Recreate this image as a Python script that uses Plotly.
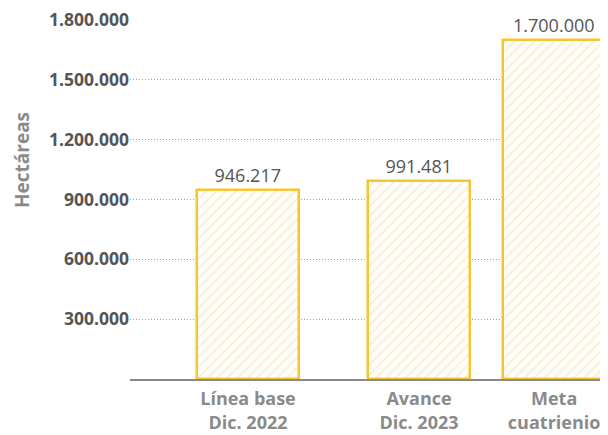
import plotly.graph_objects as go

categories = ["Línea base<br>Dic. 2022", "Avance<br>Dic. 2023", "Meta<br>cuatrienio"]
values = [946217, 991481, 1700000]
tick_vals = [300000, 600000, 900000, 1200000, 1500000, 1800000]
tick_text = ["300.000", "600.000", "900.000", "1.200.000", "1.500.000", "1.800.000"]
value_labels = ["946.217", "991.481", "1.700.000"]

# layout positions of the categories along x (uneven spacing as in the reference)
x_pos = [0, 1, 1.79]

FONT = "Open Sans, sans-serif"

fig = go.Figure()
fig.add_trace(go.Bar(
    x=x_pos,
    y=values,
    width=0.6,
    text=value_labels,
    textposition="outside",
    cliponaxis=False,
    textfont=dict(family=FONT, size=18, color="#555555"),
    marker=dict(
        color="white",
        line=dict(color="#F7C531", width=2.5),
        pattern=dict(shape="/", fgcolor="#FCDC8A", bgcolor="white", size=7, solidity=0.25),
    ),
    hoverinfo="skip",
))

# page body adds an 8px offset; the figure is sized to compensate
fig.update_layout(
    width=600, height=427,
    margin=dict(l=122, r=0, t=12, b=56, autoexpand=False),
    paper_bgcolor="white", plot_bgcolor="white",
    showlegend=False,
    bargap=0,
    xaxis=dict(
        range=[-0.69, 2.105],
        tickvals=x_pos,
        ticktext=categories,
        tickfont=dict(family=FONT, size=18, color="#8a8a8a", weight="bold"),
        showgrid=False,
        showline=True, linecolor="#8a8a8a", linewidth=1.5,
        ticks="", ticklen=0,
        zeroline=False,
        automargin=False,
        ticklabelstandoff=3,
        ticklabeloverflow="allow",
    ),
    yaxis=dict(
        range=[0, 1800001],
        tickvals=tick_vals,
        ticktext=tick_text,
        tickfont=dict(family=FONT, size=17.5, color="#555555", weight="bold"),
        showgrid=True, gridcolor="#a0a0a0", griddash="1px,2px", gridwidth=1,
        zeroline=False,
        showline=False,
        ticks="",
        ticklabelstandoff=0,
        automargin=False,
        ticklabeloverflow="allow",
    ),
    annotations=[dict(
        text="Hectáreas", textangle=-90,
        xref="paper", yref="paper",
        x=-0.226, y=0.61, xanchor="center", yanchor="middle",
        showarrow=False,
        font=dict(family=FONT, size=19, color="#8a8a8a", weight="bold"),
    )],
)

fig.write_html("out.html")
